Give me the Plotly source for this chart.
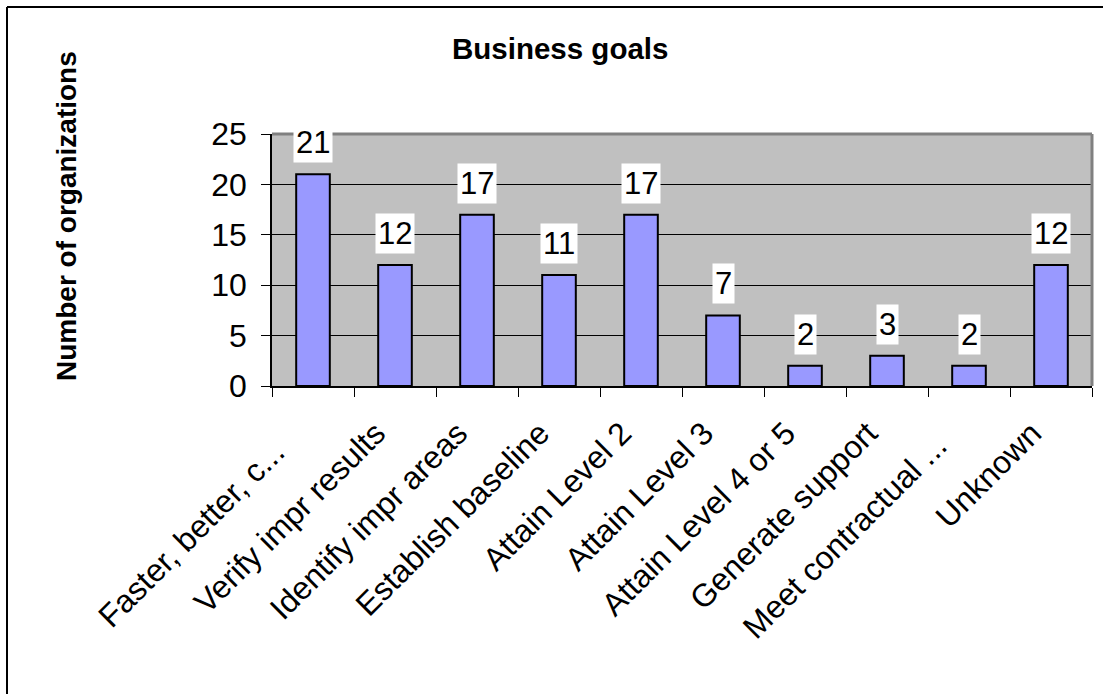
import plotly.graph_objects as go

categories = ["Faster, better, c...", "Verify impr results", "Identify impr areas",
              "Establish baseline", "Attain Level 2", "Attain Level 3",
              "Attain Level 4 or 5", "Generate support", "Meet contractual ...", "Unknown"]
tick_text = ["Faster, better, c...\u00a0\u00a0\u00a0", "Verify impr results", "Identify impr areas",
             "Establish baseline", "Attain Level 2", "Attain Level 3",
             "Attain Level 4 or 5", "Generate support", "Meet contractual ...\u00a0\u00a0", "Unknown"]
values = [21, 12, 17, 11, 17, 7, 2, 3, 2, 12]
y_ticks = [0, 5, 10, 15, 20, 25]

FONT = "Liberation Sans, Arial, sans-serif"
L, R, T, B = 272, 1092, 134, 386
W, H = R - L, B - T


def px(x):
    return (x - L) / W


def py(y):
    return (B - y) / H


fig = go.Figure()
fig.add_trace(go.Bar(
    x=categories, y=values, width=0.41,
    marker=dict(color="#9999FF", line=dict(color="black", width=2)),
    hoverinfo="skip",
))

for c, v in zip(categories, values):
    fig.add_annotation(x=c, y=v, text=str(v), showarrow=False, yanchor="bottom",
                       xanchor="center", yshift=11, bgcolor="white", borderpad=2,
                       font=dict(family=FONT, size=31, color="black"))

shapes = [
    dict(type="line", xref="paper", yref="paper", x0=0, x1=1, y0=1, y1=1,
         line=dict(color="#808080", width=3)),
    dict(type="line", xref="paper", yref="paper", x0=1, x1=1, y0=0, y1=1,
         line=dict(color="#808080", width=3)),
    dict(type="line", xref="paper", yref="paper", x0=px(7), x1=px(7), y0=py(700), y1=py(7),
         line=dict(color="black", width=2)),
    dict(type="line", xref="paper", yref="paper", x0=px(7), x1=px(1110), y0=py(7), y1=py(7),
         line=dict(color="black", width=2)),
]

fig.update_layout(
    width=1103, height=694,
    margin=dict(l=L, r=1103 - R, t=T, b=694 - B),
    paper_bgcolor="white", plot_bgcolor="#C0C0C0",
    showlegend=False, bargap=0.59,
    font=dict(family=FONT, size=30, color="black"),
    shapes=shapes,
    xaxis=dict(
        type="category", tickmode="array", tickvals=categories, ticktext=tick_text,
        tickangle=-45, tickson="boundaries", ticks="outside", ticklen=9, tickcolor="black",
        showline=True, linecolor="black", linewidth=1.5, showgrid=False,
        tickfont=dict(family=FONT, size=32), ticklabelstandoff=14, ticklabelshift=-19,
    ),
    yaxis=dict(
        range=[0, 25], tickvals=y_ticks, ticks="outside", ticklen=9, tickcolor="black",
        showline=True, linecolor="black", linewidth=1.5,
        showgrid=True, gridcolor="black", gridwidth=1, zeroline=False,
        tickfont=dict(family=FONT, size=32), ticklabelstandoff=8,
    ),
)

fig.add_annotation(xref="paper", yref="paper", x=px(560), y=py(48), xanchor="center",
                   yanchor="middle", text="<b>Business goals</b>",
                   showarrow=False, font=dict(family=FONT, size=29.5, color="black"))
fig.add_annotation(xref="paper", yref="paper", x=px(66), y=py(216), xanchor="center",
                   yanchor="middle", text="<b>Number of organizations</b>", textangle=-90,
                   showarrow=False, font=dict(family=FONT, size=28, color="black"))

fig.write_html("out.html", post_script="document.body.style.margin='0';",
               config={"displayModeBar": False})
